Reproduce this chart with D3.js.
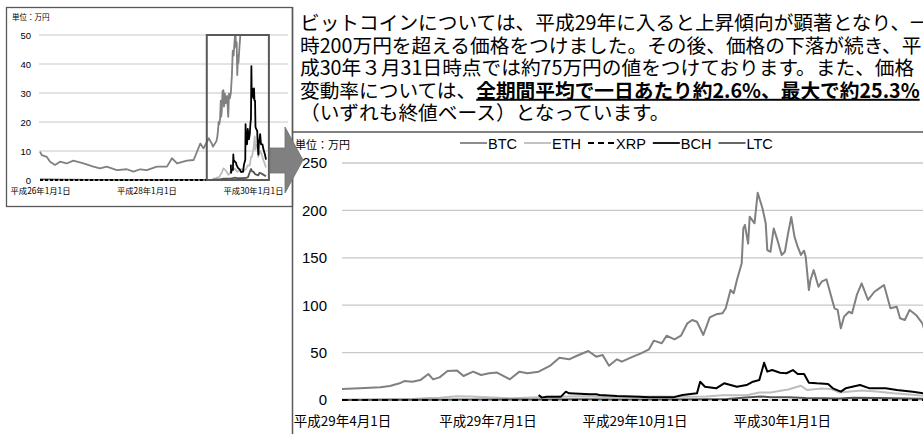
<!DOCTYPE html>
<html><head><meta charset="utf-8">
<script src="https://cdn.jsdelivr.net/npm/d3@7"></script>
<style>html,body{margin:0;padding:0;background:#fff;overflow:hidden}</style>
</head><body>
<script>
// ---------- DATA ----------
const seriesNames = ["BTC","ETH","XRP","BCH","LTC"];
const mainYTicks = [0,50,100,150,200,250];
const mainXTickDates = ["2017-04-01","2017-07-01","2017-10-01","2018-01-01"];
const mainXTickLabels = ["平成29年4月1日","平成29年7月1日","平成29年10月1日","平成30年1月1日"];
const insetYTicks = [0,10,20,30,40,50];
const insetXTickDates = ["2014-01-01","2016-01-01","2018-01-01"];
const insetXTickLabels = ["平成26年1月1日","平成28年1月1日","平成30年1月1日"];
const unitLabel = "単位：万円";

const btcDates = ["2017-04-01","2017-04-12","2017-04-25","2017-05-01","2017-05-07","2017-05-10","2017-05-15","2017-05-20","2017-05-25","2017-05-28","2017-06-01","2017-06-06","2017-06-12","2017-06-16","2017-06-22","2017-06-27","2017-07-02","2017-07-07","2017-07-15","2017-07-21","2017-07-26","2017-08-02","2017-08-09","2017-08-15","2017-08-21","2017-08-26","2017-09-02","2017-09-07","2017-09-11","2017-09-15","2017-09-20","2017-09-23","2017-09-30","2017-10-05","2017-10-10","2017-10-13","2017-10-18","2017-10-21","2017-10-26","2017-10-30","2017-11-03","2017-11-06","2017-11-09","2017-11-13","2017-11-17","2017-11-21","2017-11-25","2017-11-27","2017-11-30","2017-12-02","2017-12-04","2017-12-07","2017-12-08","2017-12-09","2017-12-11","2017-12-12","2017-12-15","2017-12-17","2017-12-20","2017-12-22","2017-12-23","2017-12-25","2017-12-27","2017-12-29","2018-01-01","2018-01-03","2018-01-05","2018-01-07","2018-01-09","2018-01-11","2018-01-13","2018-01-15","2018-01-16","2018-01-18","2018-01-19","2018-01-21","2018-01-24","2018-01-26","2018-01-29","2018-01-30","2018-02-03","2018-02-05","2018-02-07","2018-02-09","2018-02-12","2018-02-14","2018-02-17","2018-02-20","2018-02-24","2018-02-28","2018-03-03","2018-03-06","2018-03-10","2018-03-14","2018-03-16","2018-03-19","2018-03-22","2018-03-26","2018-03-30","2018-03-31"];
const btcValues = [11.5,12.3,13.4,14.8,17.6,20.0,19.3,21.0,27.4,21.8,23.9,30.6,31.0,25.3,29.9,26.4,28.2,29.0,21.8,29.9,28.2,29.9,35.9,44.6,42.9,46.7,51.7,45.7,47.5,36.2,42.9,40.4,45.7,49.2,53.5,62.6,59.8,67.8,64.0,67.8,80.9,84.4,82.6,68.6,87.2,90.4,91.5,96.7,116.0,112.5,126.6,144.2,181.0,184.6,165.0,193.4,186.4,218.7,202.0,186.4,158.0,156.4,181.0,170.5,153.0,156.4,175.8,193.0,172.3,161.7,153.0,157.5,151.2,116.0,126.6,137.0,119.5,124.8,127.3,121.3,96.7,95.0,75.6,87.9,93.1,91.5,110.8,123.0,105.5,114.2,117.8,121.3,96.7,98.4,86.2,84.4,95.0,89.7,80.9,75.0];

const ethDates = ["2017-04-01","2017-04-20","2017-05-01","2017-05-15","2017-05-25","2017-06-01","2017-06-12","2017-06-20","2017-07-01","2017-07-16","2017-07-25","2017-08-10","2017-08-30","2017-09-15","2017-10-01","2017-10-15","2017-11-01","2017-11-15","2017-11-25","2017-12-10","2017-12-18","2017-12-25","2018-01-05","2018-01-13","2018-01-17","2018-01-25","2018-02-01","2018-02-06","2018-02-20","2018-03-01","2018-03-12","2018-03-20","2018-03-31"];
const ethValues = [0.5,0.5,0.9,1.0,2.0,2.5,4.0,3.7,3.0,1.8,2.3,3.3,4.0,2.8,3.4,3.8,3.3,3.8,5.0,5.0,8.0,8.0,11.0,15.0,10.5,12.0,11.5,8.0,10.0,9.0,7.0,6.0,4.3];

const xrpDates = ["2017-04-01","2017-05-20","2017-12-15","2018-01-04","2018-02-06","2018-03-31"];
const xrpValues = [0.001,0.003,0.03,0.04,0.008,0.006];

const bchDates = ["2017-08-02","2017-08-04","2017-08-07","2017-08-16","2017-08-19","2017-08-21","2017-09-03","2017-09-07","2017-09-09","2017-09-20","2017-10-04","2017-10-10","2017-10-25","2017-10-31","2017-11-09","2017-11-11","2017-11-14","2017-11-21","2017-11-26","2017-12-04","2017-12-10","2017-12-14","2017-12-18","2017-12-21","2017-12-23","2017-12-26","2017-12-31","2018-01-04","2018-01-08","2018-01-11","2018-01-15","2018-01-18","2018-01-23","2018-01-30","2018-02-02","2018-02-07","2018-02-10","2018-02-19","2018-02-25","2018-03-07","2018-03-14","2018-03-24","2018-03-31"];
const bchValues = [5.3,2.5,3.5,3.5,8.8,7.0,6.0,6.0,5.3,4.2,3.5,2.8,2.8,5.3,7.0,19.3,14.0,12.3,17.6,14.0,15.8,19.3,21.0,39.3,29.9,31.6,28.8,28.2,31.6,27.4,27.4,18.3,17.6,16.9,12.3,8.8,12.3,15.8,12.3,12.3,10.5,8.8,7.0];

const ltcDates = ["2017-04-01","2017-05-01","2017-05-25","2017-06-15","2017-08-01","2017-09-01","2017-09-15","2017-10-15","2017-11-15","2017-11-28","2017-12-12","2017-12-19","2017-12-25","2018-01-05","2018-01-16","2018-02-06","2018-02-15","2018-03-01","2018-03-31"];
const ltcValues = [0.1,0.2,0.3,0.5,0.5,0.8,0.6,0.6,0.7,1.0,3.0,3.8,3.0,2.8,2.0,1.6,2.5,2.2,1.3];

// inset (long history before 2017-04)
const btcHistDates = ["2014-01-01","2014-01-13","2014-02-16","2014-03-11","2014-04-14","2014-05-18","2014-07-03","2014-08-18","2014-10-26","2015-01-02","2015-02-17","2015-04-04","2015-06-12","2015-08-20","2015-10-04","2015-11-19","2016-01-04","2016-03-13","2016-05-21","2016-06-24","2016-07-29","2016-10-05","2016-11-20","2017-01-05","2017-01-27","2017-03-03","2017-03-25"];
const btcHistValues = [9.8,8.6,8.0,6.3,5.2,6.3,5.7,6.7,5.7,4.6,4.0,4.6,3.4,3.7,2.9,3.7,3.4,4.6,4.6,7.5,5.7,6.7,6.9,12.6,10.9,14.4,12.5];
const ltcHistDates = ["2014-01-01","2014-06-01","2015-01-01","2016-01-01","2017-03-25"];
const ltcHistValues = [0.25,0.1,0.02,0.04,0.05];
const xrpHistDates = ["2014-01-01","2017-03-25"];
const xrpHistValues = [0.0,0.001];

const paragraphLines = [
  [{t:"ビットコインについては、平成29年に入ると上昇傾向が顕著となり、一"}],
  [{t:"時200万円を超える価格をつけました。その後、価格の下落が続き、平"}],
  [{t:"成30年３月31日時点では約75万円の値をつけております。また、価格"}],
  [{t:"変動率については、"},{t:"全期間平均で一日あたり約2.6%、最大で約25.3%",b:true}],
  [{t:"（いずれも終値ベース）となっています。"}]
];

// ---------- HELPERS ----------
const parse = d3.timeParse("%Y-%m-%d");
const zipSeries = (ds, vs) => ds.map((d,i)=>({date:parse(d), value:vs[i]}));
const latin = "'Liberation Sans', Arial, 'Noto Sans CJK JP', sans-serif";
const jp = "'Noto Sans CJK JP', sans-serif";
const styles = {
  BTC:{color:"#808080", dash:null, w:2},
  ETH:{color:"#bdbdbd", dash:null, w:2},
  XRP:{color:"#000000", dash:"6,4", w:2},
  BCH:{color:"#000000", dash:null, w:2},
  LTC:{color:"#555555", dash:null, w:2}
};
const mainData = {
  BTC: zipSeries(btcDates, btcValues),
  ETH: zipSeries(ethDates, ethValues),
  XRP: zipSeries(xrpDates, xrpValues),
  BCH: zipSeries(bchDates, bchValues),
  LTC: zipSeries(ltcDates, ltcValues)
};
const insetData = {
  BTC: zipSeries(btcHistDates, btcHistValues).concat(mainData.BTC),
  ETH: mainData.ETH,
  XRP: zipSeries(xrpHistDates, xrpHistValues).concat(mainData.XRP),
  BCH: mainData.BCH,
  LTC: zipSeries(ltcHistDates, ltcHistValues).concat(mainData.LTC)
};
const drawOrder = ["BTC","ETH","BCH","LTC","XRP"];

const svg = d3.select("body").append("svg").attr("width",923).attr("height",434)
  .style("display","block").style("background","#fff");
const defs = svg.append("defs");

// ---------- PARAGRAPH ----------
const para = svg.append("g").attr("font-family", jp).attr("font-size", 19.7).attr("fill","#000");
paragraphLines.forEach((line,i)=>{
  const t = para.append("text").attr("x",300).attr("y", 30 + i*22.6);
  line.forEach(seg=>{
    const ts = t.append("tspan").text(seg.t);
    if (seg.b) ts.attr("font-weight","bold").style("text-decoration","underline");
  });
});

// ---------- INSET ----------
const ix = d3.scaleTime().domain([parse("2014-01-01"), parse("2018-01-01")]).range([40, 253]);
const iy = d3.scaleLinear().domain([0,50]).range([180,35]);
const inset = svg.append("g");
inset.append("rect").attr("x",6.5).attr("y",7.5).attr("width",286).attr("height",199)
  .attr("fill","#fff").attr("stroke","#595959").attr("stroke-width",1.3);
inset.append("text").attr("x",12).attr("y",20).attr("font-family",jp).attr("font-size",7.5).text(unitLabel);
inset.append("g").selectAll("line").data(insetYTicks.filter(v=>v>0)).join("line")
  .attr("x1",39).attr("x2",288).attr("y1",d=>iy(d)).attr("y2",d=>iy(d))
  .attr("stroke","#c8c8c8").attr("stroke-width",1);
const iyAxis = inset.append("g").attr("transform","translate(39,0)")
  .call(d3.axisLeft(iy).tickValues(insetYTicks).tickSize(0).tickPadding(8));
iyAxis.select(".domain").remove();
iyAxis.selectAll("text").attr("font-family",latin).attr("font-size",9.5).attr("fill","#000");
const ixAxis = inset.append("g").attr("transform","translate(0,186)")
  .call(d3.axisBottom(ix).tickValues(insetXTickDates.map(parse)).tickFormat((d,i)=>insetXTickLabels[i]).tickSize(0).tickPadding(2));
ixAxis.select(".domain").remove();
ixAxis.selectAll("text").attr("font-family",jp).attr("font-size",8.3).attr("fill","#000");
defs.append("clipPath").attr("id","iclip").append("rect").attr("x",30).attr("y",35).attr("width",255).attr("height",150);
const iline = d3.line().x(d=>ix(d.date)).y(d=>iy(d.value));
const ilines = inset.append("g").attr("clip-path","url(#iclip)");
drawOrder.forEach(k=>{
  ilines.append("path").datum(insetData[k]).attr("d",iline).attr("fill","none")
    .attr("stroke",styles[k].color).attr("stroke-width",1.8)
    .attr("stroke-dasharray", styles[k].dash ? "3,2" : null).attr("stroke-linejoin","round");
});
// highlight box for main chart period
inset.append("rect")
  .attr("x", ix(parse("2017-02-18"))).attr("y", iy(50))
  .attr("width", ix(parse("2018-04-20")) - ix(parse("2017-02-18"))).attr("height", iy(0)-iy(50))
  .attr("fill","none").attr("stroke","#595959").attr("stroke-width",2);

// ---------- FRAME ----------
svg.append("line").attr("x1",292.5).attr("x2",292.5).attr("y1",7).attr("y2",434).attr("stroke","#595959").attr("stroke-width",1.5);
svg.append("line").attr("x1",292).attr("x2",923).attr("y1",132).attr("y2",132).attr("stroke","#595959").attr("stroke-width",1.5);

// ---------- MAIN CHART ----------
const x = d3.scaleTime().domain([parse("2017-04-01"), parse("2018-03-31")]).range([342, 924]);
const y = d3.scaleLinear().domain([0,250]).range([400,163]);
const main = svg.append("g");
main.append("g").selectAll("line").data(mainYTicks).join("line")
  .attr("x1",342).attr("x2",923).attr("y1",d=>y(d)).attr("y2",d=>y(d))
  .attr("stroke","#c8c8c8").attr("stroke-width",1.3);
const yAxis = main.append("g").attr("transform","translate(342,0)")
  .call(d3.axisLeft(y).tickValues(mainYTicks).tickSize(0).tickPadding(15));
yAxis.select(".domain").remove();
yAxis.selectAll("text").attr("font-family",latin).attr("font-size",15).attr("fill","#000");
const xAxis = main.append("g").attr("transform","translate(0,400)")
  .call(d3.axisBottom(x).tickValues(mainXTickDates.map(parse)).tickFormat((d,i)=>mainXTickLabels[i]).tickSize(0).tickPadding(16));
xAxis.select(".domain").remove();
xAxis.selectAll("text").attr("font-family",jp).attr("font-size",13.5).attr("fill","#000");
main.append("text").attr("x",295).attr("y",149).attr("font-family",jp).attr("font-size",11).text(unitLabel);

defs.append("clipPath").attr("id","mclip").append("rect").attr("x",342).attr("y",150).attr("width",582).attr("height",256);
const mline = d3.line().x(d=>x(d.date)).y(d=>y(d.value));
const mlines = main.append("g").attr("clip-path","url(#mclip)");
drawOrder.forEach(k=>{
  mlines.append("path").datum(mainData[k]).attr("d",mline).attr("fill","none")
    .attr("stroke",styles[k].color).attr("stroke-width",styles[k].w)
    .attr("stroke-dasharray",styles[k].dash).attr("stroke-linejoin","round");
});

// legend
const legend = main.append("g").attr("font-family",latin).attr("font-size",14.5);
let lx = 460;
seriesNames.forEach(k=>{
  legend.append("line").attr("x1",lx).attr("x2",lx+27).attr("y1",143).attr("y2",143)
    .attr("stroke",styles[k].color).attr("stroke-width",1.8).attr("stroke-dasharray",styles[k].dash);
  const t = legend.append("text").attr("x",lx+28).attr("y",148.5).text(k);
  lx += 28 + t.node().getComputedTextLength() + 7;
});

// ---------- ARROW ----------
svg.append("polygon")
  .attr("points",[[270,148],[285,148],[285,127],[303,160],[285,193],[285,173],[270,173]].map(p=>p.join(",")).join(" "))
  .attr("fill","#808080").attr("stroke","#6e6e6e").attr("stroke-width",0.8);
</script>
</body></html>
